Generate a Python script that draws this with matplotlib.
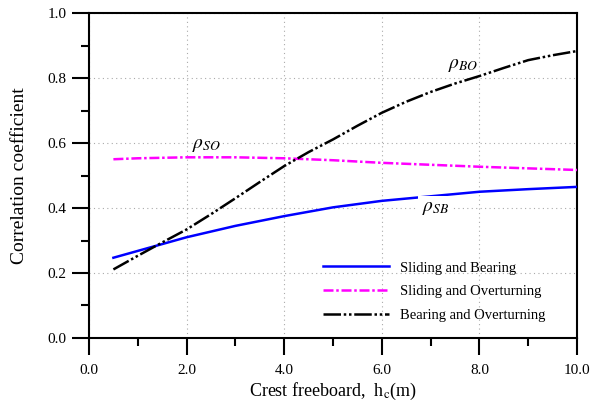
import matplotlib
matplotlib.use("Agg")
import matplotlib.pyplot as plt
from matplotlib.ticker import MultipleLocator, FormatStrFormatter

plt.rcParams['font.family'] = ['Liberation Serif', 'DejaVu Serif']
plt.rcParams['mathtext.fontset'] = 'stix'

x_sb = [0.5, 1.0, 2.0, 3.0, 4.0, 5.0, 6.0, 7.0, 8.0, 9.0, 10.0]
y_sb = [0.247, 0.268, 0.310, 0.345, 0.375, 0.402, 0.422, 0.436, 0.450, 0.458, 0.465]

x_so = [0.5, 1.0, 2.0, 3.0, 4.0, 5.0, 6.0, 7.0, 8.0, 9.0, 10.0]
y_so = [0.550, 0.553, 0.556, 0.556, 0.553, 0.547, 0.539, 0.533, 0.527, 0.522, 0.517]

x_bo = [0.5, 1.0, 1.5, 2.0, 2.5, 3.0, 3.5, 4.0, 4.5, 5.0, 5.5, 6.0, 6.5, 7.0, 7.5, 8.0, 8.5, 9.0, 9.5, 10.0]
y_bo = [0.211, 0.253, 0.294, 0.334, 0.381, 0.430, 0.480, 0.529, 0.572, 0.611, 0.653, 0.693, 0.727, 0.757, 0.783, 0.806, 0.831, 0.855, 0.870, 0.883]

labels = ['Sliding and Bearing', 'Sliding and Overturning', 'Bearing and Overturning']

fig = plt.figure(figsize=(5.91, 4.03), dpi=100)
ax = fig.add_axes([0.1506, 0.1613, 0.9763 - 0.1506, 0.9677 - 0.1613])

ax.plot(x_sb, y_sb, color='#0000ff', lw=1.8, label=labels[0], zorder=3)
ax.plot(x_so, y_so, color='#ff00ff', lw=1.8, dashes=[4, 1.1, 1, 1.1], label=labels[1], zorder=3)
ax.plot(x_bo, y_bo, color='black', lw=1.8, dashes=[7, 1.1, 1, 1.1, 1, 1.1], label=labels[2], zorder=3)

ax.text(7.1, 0.397, r'$\rho_{SB}$', fontsize=14, ha='center', va='center', zorder=4,
        bbox=dict(facecolor='white', edgecolor='none', pad=3))
ax.text(2.41, 0.591, r'$\rho_{SO}$', fontsize=14, ha='center', va='center', zorder=4)
ax.text(7.67, 0.837, r'$\rho_{BO}$', fontsize=14, ha='center', va='center', zorder=4)

ax.set_xlim(0, 10)
ax.set_ylim(0, 1.0)
ax.xaxis.set_major_locator(MultipleLocator(2))
ax.xaxis.set_minor_locator(MultipleLocator(1))
ax.yaxis.set_major_locator(MultipleLocator(0.2))
ax.yaxis.set_minor_locator(MultipleLocator(0.1))
ax.xaxis.set_major_formatter(FormatStrFormatter('%.1f'))
ax.yaxis.set_major_formatter(FormatStrFormatter('%.1f'))
ax.tick_params(which='major', direction='out', length=12, width=1.5, labelsize=11)
ax.tick_params(which='minor', direction='out', length=6, width=1.5)
ax.tick_params(axis='y', which='major', pad=4)
ax.tick_params(axis='x', which='major', pad=7)
for s in ax.spines.values():
    s.set_linewidth(1.5)
ax.grid(True, which='major', color='#aaaaaa', linestyle=(0, (1, 3)), linewidth=0.8)

ax.set_xlabel(r'Crest freeboard,  h$_{\mathrm{c}}$(m)', fontsize=13, labelpad=2.5)
ax.set_ylabel('Correlation coefficient', fontsize=14, labelpad=14)

leg = ax.legend(loc='upper left', bbox_to_anchor=(0.4795, 0.236), frameon=False, fontsize=10.5,
                handlelength=4.5, labelspacing=0.72, handletextpad=0.8,
                borderpad=0, borderaxespad=0)

fig.savefig('out.png', dpi=100)
